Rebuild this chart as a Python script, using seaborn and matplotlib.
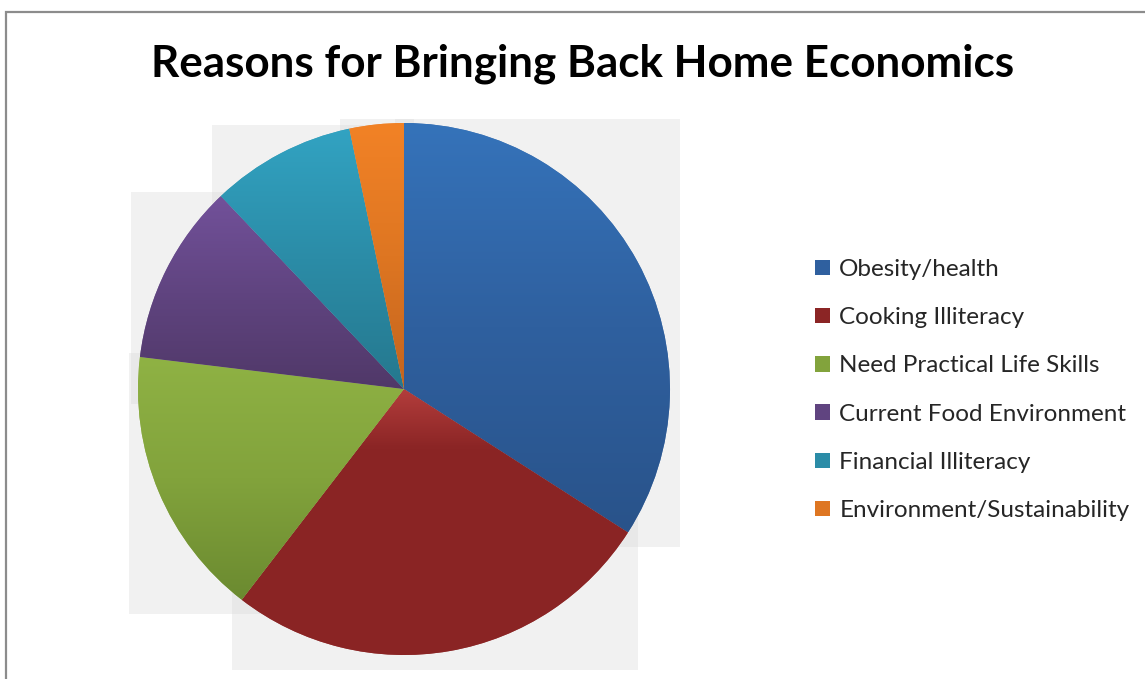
import numpy as np
import matplotlib
matplotlib.use("Agg")
import matplotlib.pyplot as plt
import seaborn as sns
from matplotlib.colors import LinearSegmentedColormap
from matplotlib.patches import Rectangle

# ---- data ----
categories = ["Obesity/health", "Cooking Illiteracy", "Need Practical Life Skills",
              "Current Food Environment", "Financial Illiteracy", "Environment/Sustainability"]
values = [31, 24, 15, 10, 8, 3]
title = "Reasons for Bringing Back Home Economics"

# top / mid / bottom colours of each wedge's vertical gradient
top_colors = ["#3573ba", "#b33d3c", "#8fb244", "#72519a", "#32a3c2", "#f28226"]
mid_colors = ["#2f609f", "#8b2525", "#82a33c", "#604480", "#2b8ca7", "#de7622"]
bot_colors = ["#29538a", "#8a2424", "#6b8a30", "#503868", "#25788e", "#c3641e"]

sns.set_theme(style="white")
plt.rcParams["font.family"] = ["Lato", "DejaVu Sans"]

fig = plt.figure(figsize=(11.45, 6.79), dpi=100)
W, H = 1145, 679

# chart border
fig.patches.append(Rectangle((6 / W, -0.01), 1.2, 1 - 12 / H + 0.01, transform=fig.transFigure,
                             fill=False, edgecolor="#8c8c8c", linewidth=1.6))

# pie axes: centre (404, 389) px, radius 266 px, limits -1.1..1.1
R = 266
L = 1.1
size = R * L
ax = fig.add_axes([(404 - size) / W, (H - 389 - size) / H, 2 * size / W, 2 * size / H])
wedges, _ = ax.pie(values, startangle=90, counterclock=False, radius=1,
                   colors=mid_colors, wedgeprops=dict(linewidth=0.6, edgecolor="#ffffff40"))

for i, w in enumerate(wedges):
    ext = w.get_path().get_extents()
    x0, y0, x1, y1 = ext.x0, ext.y0, ext.x1, ext.y1
    # soft shadow box behind each wedge
    ax.add_patch(Rectangle((x0 - 0.035, y0 - 0.055), (x1 - x0) + 0.072, (y1 - y0) + 0.07,
                           facecolor="#d9d9d9", alpha=0.35, edgecolor="none", zorder=0,
                           clip_on=False))
    if i == 1:
        cmap = LinearSegmentedColormap.from_list(
            "g", [(0, top_colors[i]), (0.22, mid_colors[i]), (1, bot_colors[i])])
    else:
        cmap = LinearSegmentedColormap.from_list(
            "g", [(0, top_colors[i]), (0.5, mid_colors[i]), (1, bot_colors[i])])
    grad = np.linspace(0, 1, 256).reshape(-1, 1)
    im = ax.imshow(grad, extent=[x0, x1, y0, y1], origin="upper", cmap=cmap,
                   aspect="auto", zorder=2, interpolation="bilinear")
    im.set_clip_path(w)
    w.set_zorder(1)

ax.set_xlim(-L, L)
ax.set_ylim(-L, L)
ax.set_aspect("equal")
ax.axis("off")

fig.text(583 / W, 1 - 64 / H, title, ha="center", va="center",
         fontsize=31.7, fontweight="bold", color="#000000")

handles = [Rectangle((0, 0), 1, 1, facecolor=c, edgecolor="none") for c in mid_colors]
fig.legend(handles, categories, loc="upper left", bbox_to_anchor=(815 / W, 1 - 259 / H),
           frameon=False, fontsize=17.5, handlelength=0.6, handleheight=0.6,
           handletextpad=0.4, labelspacing=1.12, borderaxespad=0, borderpad=0)

fig.savefig("out.png", dpi=100)
